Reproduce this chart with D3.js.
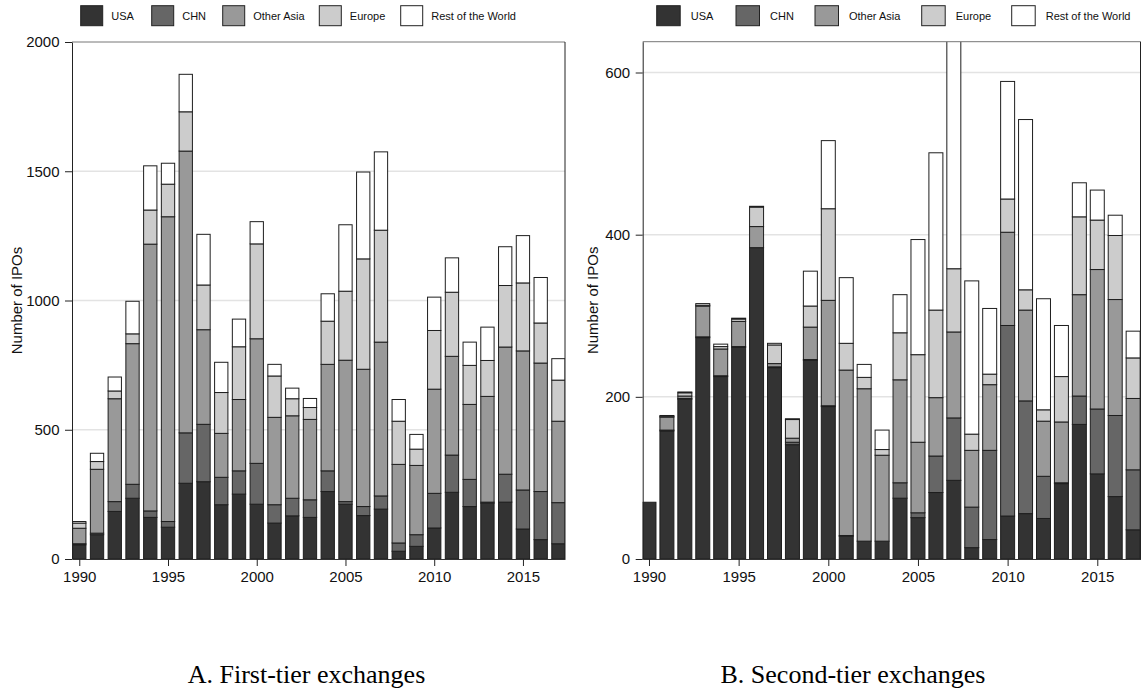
<!DOCTYPE html>
<html>
<head>
<meta charset="utf-8">
<script src="https://cdn.jsdelivr.net/npm/d3@7"></script>
<style>
  body { margin: 0; background: #fff; }
  svg { display: block; }
</style>
</head>
<body>
<svg id="chart" width="1142" height="692"></svg>
<script>
// ---- Data: number of IPOs by issuer region, 1990-2017 ----
const years = [1990, 1991, 1992, 1993, 1994, 1995, 1996, 1997, 1998, 1999,
               2000, 2001, 2002, 2003, 2004, 2005, 2006, 2007, 2008, 2009,
               2010, 2011, 2012, 2013, 2014, 2015, 2016, 2017];
const regions = ["USA", "CHN", "Other Asia", "Europe", "Rest of the World"];

// A. First-tier exchanges
const usaFirst    = [55, 94, 184, 235, 161, 123, 293, 299, 210, 251, 212, 139, 167, 161, 261, 212, 168, 193, 30, 49, 120, 258, 203, 216, 220, 116, 75, 59];
const chnFirst    = [4, 6, 38, 54, 25, 22, 195, 222, 106, 90, 158, 71, 68, 68, 80, 10, 35, 51, 32, 45, 134, 144, 105, 4, 108, 151, 186, 159];
const asiaFirst   = [60, 247, 398, 544, 1032, 1179, 1090, 366, 170, 276, 482, 338, 319, 311, 412, 547, 531, 595, 304, 268, 403, 382, 290, 409, 492, 538, 497, 315];
const europeFirst = [20, 30, 30, 38, 132, 126, 152, 173, 158, 204, 367, 160, 66, 46, 167, 267, 427, 433, 167, 63, 227, 248, 151, 139, 238, 263, 155, 159];
const restFirst   = [6, 32, 54, 126, 171, 81, 145, 196, 117, 107, 86, 45, 41, 35, 106, 257, 336, 303, 84, 57, 129, 133, 90, 129, 150, 183, 176, 83];

// B. Second-tier exchanges
const usaSecond    = [70, 158, 197, 273, 225, 261, 384, 236, 141, 245, 188, 28, 22, 22, 75, 51, 82, 97, 14, 24, 53, 56, 50, 93, 166, 105, 77, 36];
const chnSecond    = [0, 1, 1, 1, 1, 1, 0, 1, 3, 1, 1, 1, 0, 0, 19, 6, 45, 77, 50, 110, 235, 139, 52, 1, 35, 80, 100, 74];
const asiaSecond   = [0, 16, 3, 38, 33, 31, 26, 4, 5, 40, 130, 204, 188, 106, 127, 87, 72, 106, 70, 81, 115, 112, 68, 75, 125, 172, 143, 88];
const europeSecond = [0, 1, 4, 1, 3, 3, 24, 23, 23, 26, 113, 33, 14, 7, 58, 108, 108, 78, 20, 13, 41, 25, 14, 56, 96, 61, 79, 50];
const restSecond   = [0, 1, 1, 2, 3, 1, 1, 2, 1, 43, 84, 81, 16, 24, 47, 142, 194, 290, 189, 81, 145, 210, 137, 63, 42, 37, 25, 33];

// Tick labels
const xTickYears   = [1990, 1995, 2000, 2005, 2010, 2015];
const yTicksFirst  = [0, 500, 1000, 1500, 2000];
const yTicksSecond = [0, 200, 400, 600];

const captionFirst  = "A. First-tier exchanges";
const captionSecond = "B. Second-tier exchanges";
const yTitle = "Number of IPOs";

// ---- Styling / layout ----
const regionFills = ["#333333", "#666666", "#999999", "#cccccc", "#ffffff"];
const sansFont  = "'Liberation Sans', Arial, Helvetica, sans-serif";
const serifFont = "'Liberation Serif', 'Times New Roman', serif";
const plotBottom = 559;

const panels = [
  {
    caption: captionFirst,
    series: [usaFirst, chnFirst, asiaFirst, europeFirst, restFirst],
    yMax: 2000, yTicks: yTicksFirst,
    left: 72, right: 565, top: 42,
    xDomain: [1989.59, 2017.37], barFrac: 0.75,
    legendX: [80.7, 151.7, 222.7, 319.3, 400.7], swatchW: 22, textOff: 30.5,
    titleX: 21.7, captionX: 306.5
  },
  {
    caption: captionSecond,
    series: [usaSecond, chnSecond, asiaSecond, europeSecond, restSecond],
    yMax: 638, yTicks: yTicksSecond,
    left: 642.7, right: 1140.5, top: 41.7,
    xDomain: [1989.65, 2017.41], barFrac: 0.78,
    legendX: [656.7, 736, 815, 921.7, 1011.7], swatchW: 23.5, textOff: 34,
    titleX: 598, captionX: 853
  }
];

const svg = d3.select("#chart");

panels.forEach((p, pi) => {
  const rows = years.map((yr, i) => {
    const r = { year: yr };
    regions.forEach((k, j) => { r[k] = p.series[j][i]; });
    return r;
  });
  const stacked = d3.stack().keys(regions)(rows);

  const x = d3.scaleLinear().domain(p.xDomain).range([p.left, p.right]);
  const y = d3.scaleLinear().domain([0, p.yMax]).range([plotBottom, p.top]);
  const barW = (x(1991) - x(1990)) * p.barFrac;

  const g = svg.append("g");

  // clip bars to the plot region
  const clipId = "plot-clip-" + pi;
  svg.append("defs").append("clipPath").attr("id", clipId)
    .append("rect")
    .attr("x", p.left).attr("y", p.top)
    .attr("width", p.right - p.left).attr("height", plotBottom - p.top);

  // horizontal grid lines
  g.append("g").selectAll("line")
    .data(p.yTicks.filter(t => t > 0 && t < p.yMax))
    .join("line")
    .attr("x1", p.left).attr("x2", p.right)
    .attr("y1", d => y(d)).attr("y2", d => y(d))
    .attr("stroke", "#e3e3e3").attr("stroke-width", 1.5);

  // stacked bars
  const barsG = g.append("g").attr("clip-path", `url(#${clipId})`);
  stacked.forEach((layer, li) => {
    barsG.append("g").selectAll("rect")
      .data(layer.filter(d => d[1] - d[0] > 0))
      .join("rect")
      .attr("x", d => x(d.data.year) - barW / 2)
      .attr("width", barW)
      .attr("y", d => y(d[1]))
      .attr("height", d => y(d[0]) - y(d[1]))
      .attr("fill", regionFills[li])
      .attr("stroke", "#1e1e1e")
      .attr("stroke-width", 1);
  });

  // plot frame
  g.append("line").attr("x1", p.left).attr("x2", p.right).attr("y1", p.top).attr("y2", p.top)
    .attr("stroke", "#777").attr("stroke-width", 1);
  g.append("line").attr("x1", p.right).attr("x2", p.right).attr("y1", p.top).attr("y2", plotBottom)
    .attr("stroke", "#222").attr("stroke-width", 1);

  // y axis
  const yAxis = d3.axisLeft(y).tickValues(p.yTicks).tickFormat(d3.format("d"))
    .tickSize(7).tickPadding(5.5).tickSizeOuter(0);
  const ya = g.append("g").attr("transform", `translate(${p.left},0)`).call(yAxis);
  ya.select(".domain").attr("stroke", "#222");
  ya.selectAll(".tick line").attr("stroke", "#222");
  ya.selectAll("text").attr("font-family", sansFont).attr("font-size", 15).attr("fill", "#111");

  // x axis
  const xAxis = d3.axisBottom(x).tickValues(xTickYears).tickFormat(d3.format("d"))
    .tickSize(7).tickPadding(5.5).tickSizeOuter(0);
  const xa = g.append("g").attr("transform", `translate(0,${plotBottom})`).call(xAxis);
  xa.select(".domain").attr("stroke", "#333");
  xa.selectAll(".tick line").attr("stroke", "#222");
  xa.selectAll("text").attr("font-family", sansFont).attr("font-size", 15).attr("fill", "#111");

  // y axis title
  g.append("text")
    .attr("transform", `translate(${p.titleX},${(p.top + plotBottom) / 2}) rotate(-90)`)
    .attr("text-anchor", "middle")
    .attr("font-family", sansFont).attr("font-size", 15).attr("fill", "#111")
    .text(yTitle);

  // legend
  const lg = g.append("g");
  regions.forEach((name, i) => {
    lg.append("rect")
      .attr("x", p.legendX[i]).attr("y", 5.7)
      .attr("width", p.swatchW).attr("height", 20)
      .attr("fill", regionFills[i]).attr("stroke", "#222").attr("stroke-width", 1);
    lg.append("text")
      .attr("x", p.legendX[i] + p.textOff).attr("y", 19.6)
      .attr("font-family", sansFont).attr("font-size", 11).attr("fill", "#111")
      .text(name);
  });

  // panel caption
  g.append("text")
    .attr("x", p.captionX).attr("y", 683)
    .attr("text-anchor", "middle")
    .attr("font-family", serifFont).attr("font-size", 26).attr("fill", "#000")
    .text(p.caption);
});
</script>
</body>
</html>
